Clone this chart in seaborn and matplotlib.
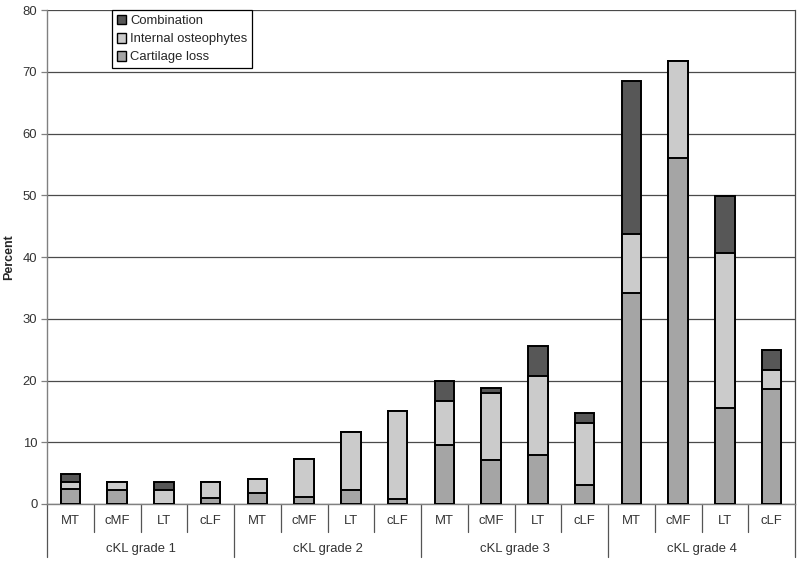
import numpy as np
import pandas as pd
import matplotlib
matplotlib.use("Agg")
import matplotlib.pyplot as plt
import seaborn as sns
from matplotlib.patches import Patch

sites = ["MT", "cMF", "LT", "cLF"]
grades = ["cKL grade 1", "cKL grade 2", "cKL grade 3", "cKL grade 4"]
cartilage_loss = [2.4, 2.3, 0.0, 1.0,
                  1.8, 1.1, 2.3, 0.8,
                  9.5, 7.2, 7.9, 3.0,
                  34.2, 56.1, 15.5, 18.6]
internal_osteophytes = [1.1, 1.3, 2.3, 2.6,
                        2.3, 6.2, 9.3, 14.2,
                        7.2, 10.8, 12.8, 10.2,
                        9.5, 15.7, 25.1, 3.1]
combination = [1.4, 0.0, 1.3, 0.0,
               0.0, 0.0, 0.0, 0.0,
               3.3, 0.8, 4.9, 1.6,
               24.9, 0.0, 9.3, 3.3]

sns.set_theme(style="white")
plt.rcParams['font.family'] = ['Liberation Sans', 'DejaVu Sans']

FS = 9.4
labels = [f"{g}|{s}" for g in grades for s in sites]
cl = np.array(cartilage_loss)
io = np.array(internal_osteophytes)
co = np.array(combination)
df = pd.DataFrame({"pos": labels, "cl": cl, "clio": cl + io, "total": cl + io + co})

c_comb = "#575757"
c_int = "#cbcbcb"
c_cart = "#a5a5a5"

fig = plt.figure(figsize=(8, 5.65), dpi=100)
ax = fig.add_axes([0.05875, 0.108, 0.935, 0.874])

bw = 0.42
common = dict(x="pos", order=labels, width=bw, edgecolor="black", linewidth=1.4,
              ax=ax, zorder=3)
sns.barplot(data=df, y="total", color=c_comb, saturation=1, **common)
sns.barplot(data=df, y="clio", color=c_int, saturation=1, **common)
sns.barplot(data=df, y="cl", color=c_cart, saturation=1, **common)

ax.set_ylim(0, 80)
ax.set_xlim(-0.5, len(labels) - 0.5)
ax.set_yticks(np.arange(0, 81, 10))
ax.yaxis.grid(True, color="#4a4a4a", linewidth=0.9, zorder=0)
ax.set_axisbelow(True)
ax.tick_params(axis="y", left=True, length=4, width=0.9, color="#808080",
               labelsize=FS, labelcolor="#333333", pad=3)
ax.set_xticks([])
ax.set_xlabel("")
ax.set_ylabel("Percent", fontsize=FS - 0.4, fontweight="bold")
ax.yaxis.set_label_coords(-0.0428, 0.5)

ax.spines["right"].set_color("#4a4a4a")
ax.spines["right"].set_linewidth(0.9)
ax.spines["top"].set_visible(False)
for side in ["left", "bottom"]:
    ax.spines[side].set_color("#808080")
    ax.spines[side].set_linewidth(1.0)

tr = ax.get_xaxis_transform()
axh = 494.0
for i in range(len(labels) + 1):
    xb = i - 0.5
    if i % 4 == 0:
        y0 = -53 / axh
    else:
        y0 = -28 / axh
    ax.plot([xb, xb], [0, y0], transform=tr, color="#555555", lw=0.9, clip_on=False)
for i, lab in enumerate(labels):
    ax.text(i, -17 / axh, lab.split("|")[1], transform=tr, ha="center", va="center",
            fontsize=FS, color="#333333")
for gi, g in enumerate(grades):
    ax.text(gi * 4 + 1.5, -45 / axh, g, transform=tr, ha="center", va="center",
            fontsize=FS, color="#333333")

handles = [Patch(facecolor=c_comb, edgecolor="black", lw=1.0, label="Combination"),
           Patch(facecolor=c_int, edgecolor="black", lw=1.0, label="Internal osteophytes"),
           Patch(facecolor=c_cart, edgecolor="black", lw=1.0, label="Cartilage loss")]
leg = ax.legend(handles=handles, loc="upper left", bbox_to_anchor=(0.087, 1.0),
                borderaxespad=0, fontsize=FS, frameon=True, fancybox=False,
                handlelength=0.75, handleheight=0.75, handletextpad=0.3,
                labelspacing=0.45, borderpad=0.35, framealpha=1)
leg.get_frame().set_edgecolor("black")
leg.get_frame().set_linewidth(0.9)
leg.set_zorder(5)

fig.savefig("out.png", dpi=100)
